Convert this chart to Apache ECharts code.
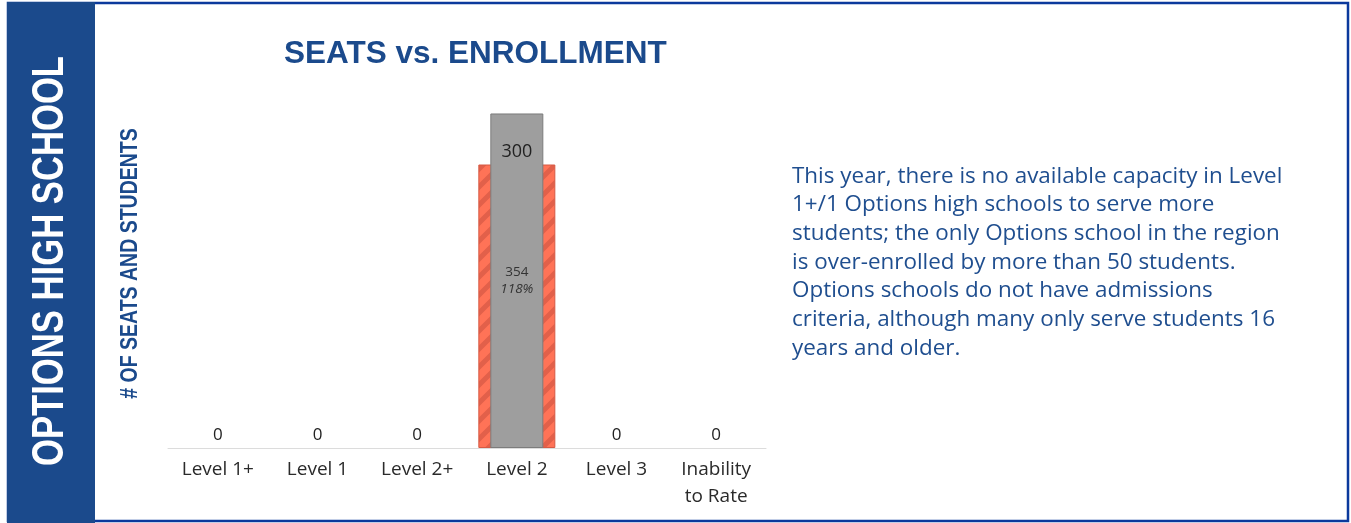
<!DOCTYPE html>
<html>
<head>
<meta charset="utf-8">
<title>Seats vs. Enrollment</title>
<script src="https://cdn.jsdelivr.net/npm/echarts@6/dist/echarts.min.js"></script>
<style>
  html, body { margin: 0; padding: 0; background: #ffffff; }
  #chart { width: 1351px; height: 523px; }
</style>
</head>
<body>
<div id="chart"></div>
<script>
// Rating levels along the x axis
const categories = ['Level 1+', 'Level 1', 'Level 2+', 'Level 2', 'Level 3', 'Inability\nto Rate'];
// Available seats per rating level
const seats = [0, 0, 0, 300, 0, 0];
// Enrolled students per rating level
const enrollment = [0, 0, 0, 354, 0, 0];

const sideTitle = 'OPTIONS HIGH SCHOOL';
const chartTitle = 'SEATS vs. ENROLLMENT';
const axisTitle = '# OF SEATS AND STUDENTS';
const note = [
  'This year, there is no available capacity in Level',
  '1+/1 Options high schools to serve more',
  'students; the only Options school in the region',
  'is over-enrolled by more than 50 students.',
  'Options schools do not have admissions',
  'criteria, although many only serve students 16',
  'years and older.'
];

const NAVY = '#1b4a8c';
const BORDER = '#0b399c';

// Diagonal hatch used for the seat bars
function hatch() {
  const s = 18;
  const cv = document.createElement('canvas');
  cv.width = s; cv.height = s;
  const c = cv.getContext('2d');
  c.fillStyle = '#ff7357';
  c.fillRect(0, 0, s, s);
  c.strokeStyle = '#e2604a';
  c.lineWidth = 5;
  c.beginPath();
  c.moveTo(-2, s + 2); c.lineTo(s + 2, -2);
  c.moveTo(-s / 2 - 2, s / 2 + 2); c.lineTo(s / 2 + 2, -s / 2 - 2);
  c.moveTo(s / 2 - 2, s * 1.5 + 2); c.lineTo(s * 1.5 + 2, s / 2 - 2);
  c.stroke();
  return cv;
}

// Zero-height bars get no outline so that nothing shows on the baseline
function barItems(values) {
  return values.map(v => v > 0 ? v : { value: v, itemStyle: { borderWidth: 0 } });
}

const chart = echarts.init(document.getElementById('chart'), null, { renderer: 'canvas' });

chart.setOption({
  animation: false,
  backgroundColor: '#ffffff',
  title: {
    text: chartTitle,
    left: 279,
    top: 33,
    textStyle: {
      fontFamily: 'Liberation Sans, Arial, sans-serif',
      fontWeight: 'bold',
      fontSize: 31.5,
      color: NAVY
    }
  },
  grid: { left: 168, right: 585, top: 70, bottom: 75, containLabel: false },
  xAxis: [
    {
      type: 'category',
      data: categories,
      axisLine: { show: true, lineStyle: { color: '#dcdcdc', width: 1 } },
      axisTick: { show: false },
      axisLabel: {
        interval: 0,
        margin: 8,
        fontFamily: 'Open Sans, sans-serif',
        fontSize: 19,
        lineHeight: 27,
        color: '#2a2a2a'
      }
    },
    {
      type: 'category',
      data: categories,
      show: false
    }
  ],
  yAxis: {
    type: 'value',
    min: 0,
    max: 400,
    axisLine: { show: false },
    axisTick: { show: false },
    axisLabel: { show: false },
    splitLine: { show: false }
  },
  series: [
    {
      name: 'Seats',
      type: 'bar',
      xAxisIndex: 0,
      data: barItems(seats),
      barWidth: 77,
      z: 2,
      itemStyle: {
        color: { image: hatch(), repeat: 'repeat' },
        borderColor: '#d65a44',
        borderWidth: 1
      },
      label: {
        show: true,
        position: 'top',
        distance: 4,
        formatter: p => p.value > 0 ? '{b|' + p.value + '}' : '{z|' + p.value + '}',
        rich: {
          b: { fontFamily: 'Open Sans, sans-serif', fontSize: 18, color: '#222222' },
          z: { fontFamily: 'Open Sans, sans-serif', fontSize: 17, color: '#222222' }
        }
      }
    },
    {
      name: 'Enrollment',
      type: 'bar',
      xAxisIndex: 1,
      data: barItems(enrollment),
      barWidth: 53,
      z: 2,
      itemStyle: {
        color: '#9e9e9e',
        borderColor: '#7c7c7c',
        borderWidth: 1
      },
      label: {
        show: true,
        position: 'inside',
        formatter: p => {
          if (!p.value) return '';
          const pct = Math.round(p.value / seats[p.dataIndex] * 100);
          return '{v|' + p.value + '}\n{p|' + pct + '%}';
        },
        rich: {
          v: { fontFamily: 'Open Sans, sans-serif', fontSize: 13.5, color: '#333333', lineHeight: 17 },
          p: { fontFamily: 'Open Sans, sans-serif', fontSize: 13.5, fontStyle: 'italic', color: '#333333', lineHeight: 17 }
        }
      }
    }
  ],
  graphic: [
    // outer frame
    {
      type: 'rect',
      shape: { x: 8, y: 3, width: 1340, height: 518 },
      style: { fill: null, stroke: BORDER, lineWidth: 2.5 },
      silent: true,
      z: 0
    },
    // side band
    {
      type: 'rect',
      shape: { x: 7, y: 2, width: 88, height: 521 },
      style: { fill: NAVY },
      silent: true,
      z: 1
    },
    {
      type: 'text',
      x: 51,
      y: 261,
      rotation: Math.PI / 2,
      scaleX: 0.77,
      style: {
        text: sideTitle,
        fill: '#ffffff',
        font: 'bold 45px "Liberation Sans", Arial, sans-serif',
        align: 'center',
        verticalAlign: 'middle'
      },
      silent: true,
      z: 2
    },
    // value axis title
    {
      type: 'text',
      x: 131,
      y: 263.5,
      rotation: Math.PI / 2,
      scaleX: 0.83,
      style: {
        text: axisTitle,
        fill: NAVY,
        font: 'bold 23.5px "Liberation Sans", Arial, sans-serif',
        align: 'center',
        verticalAlign: 'middle'
      },
      silent: true,
      z: 2
    },
    {
      type: 'text',
      x: 792,
      y: 162,
      scaleX: 1.02,
      style: {
        text: note.join('\n'),
        fill: '#1f4e8f',
        font: '22px "Open Sans", sans-serif',
        lineHeight: 28.7
      },
      silent: true,
      z: 2
    }
  ]
});
</script>
</body>
</html>
